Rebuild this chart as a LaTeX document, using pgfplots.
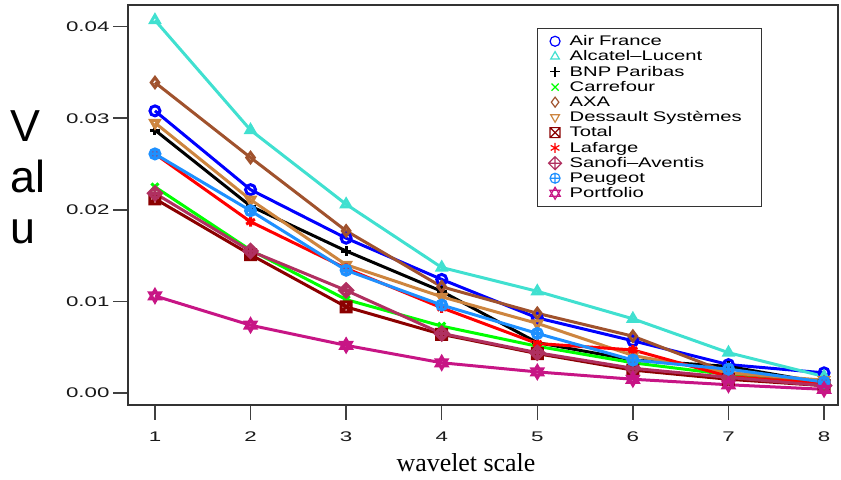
\documentclass[border=0pt]{standalone}
\usepackage{fontspec}
\setmainfont{Liberation Serif}
\setsansfont{Liberation Sans}
\newfontfamily\widesans[FakeStretch=1.6]{Liberation Sans}
\newfontfamily\legsans[FakeStretch=1.45]{Liberation Sans}
\usepackage{pgfplots}
\pgfplotsset{compat=1.18}
\definecolor{cTurq}{HTML}{40E0D0}
\definecolor{cGreen}{HTML}{00FF00}
\definecolor{cSienna}{HTML}{A0522D}
\definecolor{cPeru}{HTML}{CD853F}
\definecolor{cDarkRed}{HTML}{8B0000}
\definecolor{cMaroon}{HTML}{B03060}
\definecolor{cDodger}{HTML}{1E90FF}
\definecolor{cViolet}{HTML}{C71585}
\pgfdeclareplotmark{boxx}{%
  \pgfpathrectangle{\pgfqpoint{-\pgfplotmarksize}{-\pgfplotmarksize}}{\pgfqpoint{2\pgfplotmarksize}{2\pgfplotmarksize}}%
  \pgfpathmoveto{\pgfqpoint{-\pgfplotmarksize}{-\pgfplotmarksize}}\pgfpathlineto{\pgfqpoint{\pgfplotmarksize}{\pgfplotmarksize}}%
  \pgfpathmoveto{\pgfqpoint{-\pgfplotmarksize}{\pgfplotmarksize}}\pgfpathlineto{\pgfqpoint{\pgfplotmarksize}{-\pgfplotmarksize}}%
  \pgfusepathqstroke}
\pgfdeclareplotmark{diamondplus}{%
  \pgfpathmoveto{\pgfqpoint{0pt}{1.3\pgfplotmarksize}}\pgfpathlineto{\pgfqpoint{1.3\pgfplotmarksize}{0pt}}%
  \pgfpathlineto{\pgfqpoint{0pt}{-1.3\pgfplotmarksize}}\pgfpathlineto{\pgfqpoint{-1.3\pgfplotmarksize}{0pt}}\pgfpathclose
  \pgfpathmoveto{\pgfqpoint{0pt}{1.3\pgfplotmarksize}}\pgfpathlineto{\pgfqpoint{0pt}{-1.3\pgfplotmarksize}}%
  \pgfpathmoveto{\pgfqpoint{1.3\pgfplotmarksize}{0pt}}\pgfpathlineto{\pgfqpoint{-1.3\pgfplotmarksize}{0pt}}%
  \pgfusepathqstroke}
\pgfdeclareplotmark{david}{%
  \pgfpathmoveto{\pgfqpointpolar{90}{1.2\pgfplotmarksize}}\pgfpathlineto{\pgfqpointpolar{210}{1.2\pgfplotmarksize}}\pgfpathlineto{\pgfqpointpolar{330}{1.2\pgfplotmarksize}}\pgfpathclose
  \pgfpathmoveto{\pgfqpointpolar{270}{1.2\pgfplotmarksize}}\pgfpathlineto{\pgfqpointpolar{30}{1.2\pgfplotmarksize}}\pgfpathlineto{\pgfqpointpolar{150}{1.2\pgfplotmarksize}}\pgfpathclose
  \pgfusepathqstroke}
\begin{document}
\begin{tikzpicture}[x=1bp,y=1bp]
\path[use as bounding box] (0,0) rectangle (841,480);
\begin{axis}[
  at={(128bp,75bp)}, anchor=south west,
  scale only axis, width=710bp, height=400bp,
  xmin=0.718, xmax=8.146, ymin=-0.00131, ymax=0.04236,
  xtick={1,...,8}, ytick={0,0.01,0.02,0.03,0.04},
  scaled y ticks=false,
  yticklabel style={/pgf/number format/.cd, fixed, fixed zerofill, precision=2},
  xticklabel style={yshift=-8bp},
  /pgf/number format/assume math mode=true,
  tick label style={font=\widesans\fontsize{14}{16}\selectfont, text=black!90},
  tick align=outside, major tick length=15bp,
  tick style={line width=1.5bp, black!75},
  xtick pos=bottom, ytick pos=left,
  axis line style={line width=1.5bp, black!80},
  every axis plot/.append style={line width=3bp, mark size=5bp, mark options={solid}},
  legend style={at={(0.576,0.9425)}, anchor=north west, draw=black!80, line width=1bp,
    font=\legsans\fontsize{14}{15}\selectfont, row sep=-0.3bp, column sep=2bp,
    inner xsep=5bp, inner ysep=5bp,
    cells={anchor=west}, text width=185bp},
  legend image post style={only marks, line width=1.2bp, mark size=5bp},
  legend image code/.code={\path (0bp,0bp) (22bp,0bp); \draw[mark repeat=2,mark phase=2,#1] plot coordinates {(2bp,0bp)(12bp,0bp)(22bp,0bp)};},
]
\addplot[blue, mark=o] coordinates {(1,0.0308)(2,0.0222)(3,0.0169)(4,0.0124)(5,0.0082)(6,0.0057)(7,0.0031)(8,0.0022)};
\addlegendentry{Air France}
\addplot[cTurq, mark=triangle] coordinates {(1,0.0407)(2,0.0287)(3,0.0206)(4,0.0137)(5,0.0111)(6,0.0081)(7,0.0044)(8,0.0018)};
\addlegendentry{Alcatel{\textendash}Lucent}
\addplot[black, mark=+] coordinates {(1,0.0287)(2,0.0204)(3,0.0155)(4,0.0111)(5,0.0055)(6,0.0036)(7,0.0029)(8,0.0011)};
\addlegendentry{BNP Paribas}
\addplot[cGreen, mark=x] coordinates {(1,0.0225)(2,0.0156)(3,0.0102)(4,0.0073)(5,0.0051)(6,0.0033)(7,0.0020)(8,0.0010)};
\addlegendentry{Carrefour}
\addplot[cSienna, mark=diamond] coordinates {(1,0.0339)(2,0.0257)(3,0.0177)(4,0.0116)(5,0.0087)(6,0.0062)(7,0.0022)(8,0.0012)};
\addlegendentry{AXA}
\addplot[cPeru, mark=triangle, mark options={rotate=180}] coordinates {(1,0.0295)(2,0.0211)(3,0.0140)(4,0.0105)(5,0.0076)(6,0.0041)(7,0.0022)(8,0.0014)};
\addlegendentry{Dessault Systèmes}
\addplot[cDarkRed, mark=boxx] coordinates {(1,0.0212)(2,0.0151)(3,0.0094)(4,0.0064)(5,0.0043)(6,0.0025)(7,0.0015)(8,0.0008)};
\addlegendentry{Total}
\addplot[red, mark=asterisk] coordinates {(1,0.0261)(2,0.0187)(3,0.0136)(4,0.0093)(5,0.0054)(6,0.0047)(7,0.0018)(8,0.0010)};
\addlegendentry{Lafarge}
\addplot[cMaroon, mark=diamondplus] coordinates {(1,0.0218)(2,0.0155)(3,0.0112)(4,0.0065)(5,0.0044)(6,0.0027)(7,0.0017)(8,0.0008)};
\addlegendentry{Sanofi{\textendash}Aventis}
\addplot[cDodger, mark=oplus] coordinates {(1,0.0261)(2,0.0199)(3,0.0134)(4,0.0096)(5,0.0065)(6,0.0036)(7,0.0026)(8,0.0012)};
\addlegendentry{Peugeot}
\addplot[cViolet, mark=david] coordinates {(1,0.0106)(2,0.0074)(3,0.0052)(4,0.0033)(5,0.0023)(6,0.0015)(7,0.0009)(8,0.0004)};
\addlegendentry{Portfolio}
\end{axis}
\node[anchor=west, align=left, font=\sffamily\fontsize{45}{51}\selectfont, inner sep=0pt] at (10,303) {V\\al\\u};
\node[font=\fontsize{26}{30}\selectfont, inner sep=0pt] at (466,17) {wavelet scale};
\end{tikzpicture}
\end{document}
